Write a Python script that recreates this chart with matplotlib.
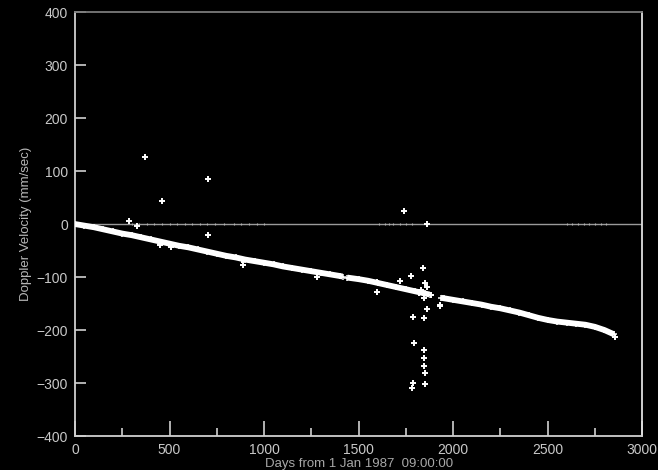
import matplotlib
matplotlib.use("Agg")
import matplotlib.pyplot as plt
from matplotlib.ticker import MultipleLocator

plt.rcParams['font.family'] = ['Liberation Sans', 'DejaVu Sans']

# Main trend of Doppler velocity
trend_days = [0, 50, 100, 150, 200, 250, 300, 350, 400, 450, 500, 550, 600, 650, 700,
              750, 800, 850, 900, 950, 1000, 1050, 1100, 1150, 1200, 1250, 1300, 1350,
              1400, 1415]
trend_vel = [0, -3, -6, -10, -14, -18, -21, -25, -29, -33, -37, -41, -44, -48, -52,
             -56, -60, -63, -67, -70, -73, -76, -80, -83, -86, -89, -92, -95,
             -98, -99]
trend2_days = [1440, 1500, 1550, 1600, 1650, 1700, 1750, 1800, 1850, 1875]
trend2_vel = [-101, -104, -107, -111, -115, -119, -123, -127, -131, -133]
trend3_days = [1935, 1950, 2000, 2050, 2100, 2150, 2200, 2250, 2300, 2350, 2400,
               2450, 2500, 2550, 2600, 2650, 2700, 2750, 2800, 2850]
trend3_vel = [-139, -140, -143, -146, -149, -152, -156, -159, -163, -167, -172,
              -177, -181, -184, -186, -188, -190, -194, -200, -208]

# Outlying measurements
out_days = [284, 326, 368, 458, 705, 705, 447, 510, 885, 890, 1280, 1595, 1595,
            1742, 1863, 1842, 1779, 1721, 1853, 1863, 1884, 1931, 1930, 1789, 1847,
            1795, 1847, 1847, 1847, 1853, 1789, 1784, 1853, 1830, 1845, 1860, 1820,
            2855]
out_vel = [5, -3, 126, 43, 85, -21, -40, -43, -68, -77, -100, -110, -128,
           25, 0, -83, -98, -108, -111, -118, -134, -153, -155, -175, -178,
           -225, -238, -253, -268, -281, -300, -310, -302, -125, -140, -160, -130,
           -214]

# Measurements lying on the zero line
zero_days = [300, 340, 380, 420, 460, 500, 540, 580, 620, 660, 700, 740, 790, 840,
             880, 920, 960, 1000, 1610, 1640, 1660, 1680, 1720, 1750, 1780,
             2600, 2630, 2660, 2690, 2720, 2750, 2780, 2810]
zero_vel = [0] * len(zero_days)

fig = plt.figure(figsize=(6.58, 4.70), dpi=100, facecolor='black')
ax = fig.add_axes([0.114, 0.0723, 0.862, 0.902])
ax.set_facecolor('black')

ax.axhline(0, color='#9a9a9a', lw=1.0, zorder=1)
ax.plot(zero_days, zero_vel, ls='none', marker='|', ms=2, mew=0.8, color='#b0b0b0', zorder=2)

for d, v in [(trend_days, trend_vel), (trend2_days, trend2_vel), (trend3_days, trend3_vel)]:
    ax.plot(d, v, color='white', lw=4.2, solid_capstyle='butt', zorder=3)
    ax.plot(d, v, ls='none', marker='+', ms=5, mew=1.1, color='white', zorder=3)

ax.plot(out_days, out_vel, ls='none', marker='+', ms=5, mew=1.4, color='white', zorder=4)

ax.set_xlim(0, 3000)
ax.set_ylim(-400, 400)
ax.xaxis.set_major_locator(MultipleLocator(500))
ax.xaxis.set_minor_locator(MultipleLocator(250))
ax.yaxis.set_major_locator(MultipleLocator(100))

txt = '#c8c8c8'
ax.tick_params(axis='x', which='major', direction='in', length=11, width=1.2,
               color='#d0d0d0', labelcolor=txt, labelsize=10, pad=5, top=False)
ax.tick_params(axis='x', which='minor', direction='in', length=6, width=1.2,
               color='#d0d0d0', top=False)
ax.tick_params(axis='y', which='major', direction='in', length=8, width=1.2,
               color='#d0d0d0', labelcolor=txt, labelsize=10, pad=5, right=False)

ax.spines['left'].set_color('#d0d0d0')
ax.spines['bottom'].set_color('#d0d0d0')
ax.spines['top'].set_color('#7a7a7a')
ax.spines['right'].set_color('#e0e0e0')
for s in ax.spines.values():
    s.set_linewidth(1.3)

ax.set_xlabel('Days from 1 Jan 1987  09:00:00', color='#a8a8a8', fontsize=9.5, labelpad=1)
ax.set_ylabel('Doppler Velocity (mm/sec)', color='#b8b8b8', fontsize=9.5, labelpad=3)

fig.savefig('out.png', dpi=100, facecolor='black')
